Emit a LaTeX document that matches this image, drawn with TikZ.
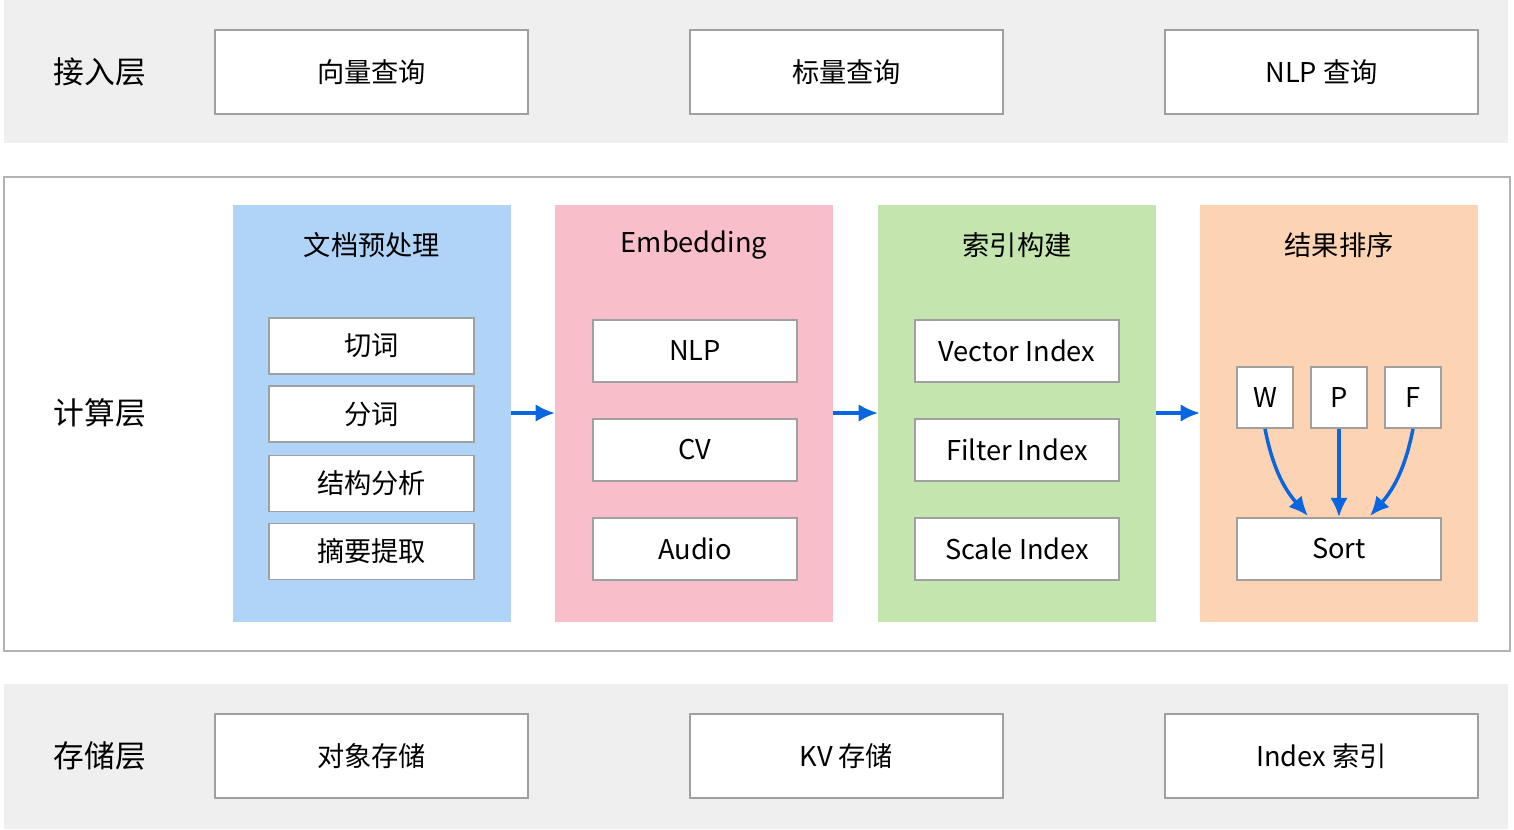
\documentclass[tikz,border=0pt]{standalone}
\usepackage{fontspec}
\setmainfont{Noto Sans CJK SC}
\usetikzlibrary{arrows.meta,positioning}
\definecolor{bandgray}{HTML}{EFEFEF}
\definecolor{boxgray}{HTML}{A0A0A0}
\definecolor{cblue}{HTML}{B0D3F8}
\definecolor{cpink}{HTML}{F8BFCB}
\definecolor{cgreen}{HTML}{C5E5AF}
\definecolor{corange}{HTML}{FDD4B3}
\definecolor{arrblue}{HTML}{0A66E0}
\tikzset{
  wbox/.style={draw=boxgray, line width=1pt, fill=white, inner sep=0pt},
  layer/.style={font=\fontsize{17.5}{20}\selectfont},
  arr/.style={-{Latex[length=11pt,width=10pt]}, draw=arrblue, line width=2pt}
}
\begin{document}
\begin{tikzpicture}[x=0.02cm, y=-0.02cm, font=\fontsize{15.5}{18}\selectfont]
\useasboundingbox (0,0) rectangle (1514,829);
% bands
\fill[bandgray] (4,0) rectangle (1508,143);
\fill[bandgray] (4,684) rectangle (1508,829);
\draw[boxgray!80, line width=1.5pt] (4,177) rectangle (1510,651);
\node[layer] (L1) at (100,72) {接入层};
\node[layer] (L2) at (100,413) {计算层};
\node[layer] (L3) at (100,756) {存储层};
% top row
\node[wbox, minimum width=6.26cm, minimum height=1.68cm] (A1) at (371.5,72) {向量查询};
\node[wbox, minimum width=6.26cm, minimum height=1.68cm] (A2) at (846.5,72) {标量查询};
\node[wbox, minimum width=6.26cm, minimum height=1.68cm] (A3) at (1321.5,72) {NLP 查询};
% bottom row
\node[wbox, minimum width=6.26cm, minimum height=1.68cm] (S1) at (371.5,756) {对象存储};
\node[wbox, minimum width=6.26cm, minimum height=1.68cm] (S2) at (846.5,756) {KV 存储};
\node[wbox, minimum width=6.26cm, minimum height=1.68cm] (S3) at (1321.5,756) {Index 索引};
% panels
\fill[cblue] (233,205) rectangle (511,622);
\fill[cpink] (555,205) rectangle (833,622);
\fill[cgreen] (878,205) rectangle (1156,622);
\fill[corange] (1200,205) rectangle (1478,622);
\node (T1) at (372,245) {文档预处理};
\node (T2) at (694,245) {Embedding};
\node (T3) at (1017,245) {索引构建};
\node (T4) at (1339,245) {结果排序};
% panel 1
\node[wbox, minimum width=4.1cm, minimum height=1.12cm] (P1a) at (371.5,346) {切词};
\node[wbox, minimum width=4.1cm, minimum height=1.12cm] (P1b) at (371.5,414) {分词};
\node[wbox, minimum width=4.1cm, minimum height=1.12cm] (P1c) at (371.5,483.5) {结构分析};
\node[wbox, minimum width=4.1cm, minimum height=1.12cm] (P1d) at (371.5,551.5) {摘要提取};
% panel 2
\node[wbox, minimum width=4.08cm, minimum height=1.24cm] (P2a) at (695,351) {NLP};
\node[wbox, minimum width=4.08cm, minimum height=1.24cm] (P2b) at (695,450) {CV};
\node[wbox, minimum width=4.08cm, minimum height=1.24cm] (P2c) at (695,549) {Audio};
% panel 3
\node[wbox, minimum width=4.08cm, minimum height=1.24cm] (P3a) at (1017,351) {Vector Index};
\node[wbox, minimum width=4.08cm, minimum height=1.24cm] (P3b) at (1017,450) {Filter Index};
\node[wbox, minimum width=4.08cm, minimum height=1.24cm] (P3c) at (1017,549) {Scale Index};
% panel 4
\node[wbox, minimum width=1.12cm, minimum height=1.22cm] (W) at (1265,397.5) {W};
\node[wbox, minimum width=1.12cm, minimum height=1.22cm] (P) at (1339,397.5) {P};
\node[wbox, minimum width=1.12cm, minimum height=1.22cm] (F) at (1413,397.5) {F};
\node[wbox, minimum width=4.08cm, minimum height=1.24cm] (Sort) at (1339,549) {Sort};
\draw[arr] (W.south) to[bend right=15] (1308,516);
\draw[arr] (P.south) -- (Sort.north);
\draw[arr] (F.south) to[bend left=15] (1370,516);
% flow arrows
\coordinate (B1) at (511,413); \coordinate (C1) at (555,413);
\coordinate (B2) at (833,413); \coordinate (C2) at (878,413);
\coordinate (B3) at (1156,413); \coordinate (C3) at (1200,413);
\draw[arr] (B1) -- (C1);
\draw[arr] (B2) -- (C2);
\draw[arr] (B3) -- (C3);
\end{tikzpicture}
\end{document}
